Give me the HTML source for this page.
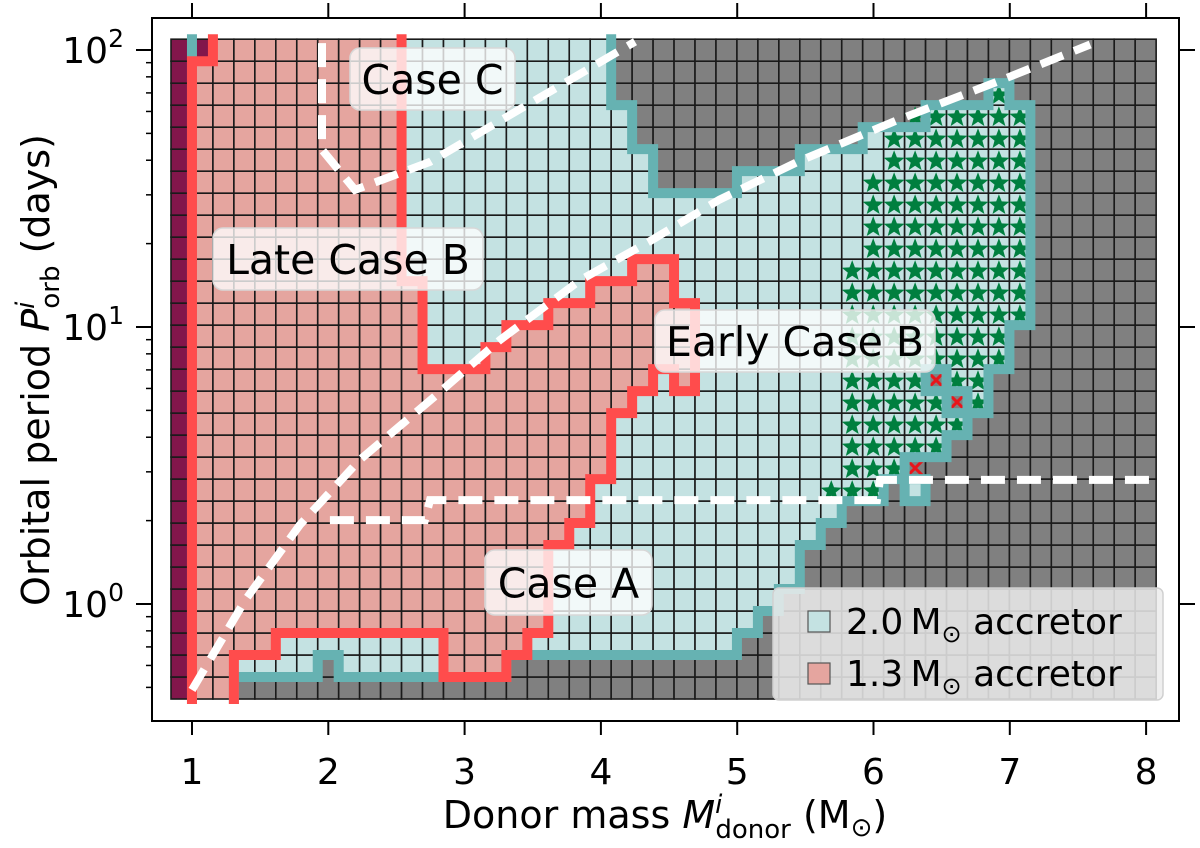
<!DOCTYPE html>
<html><head><meta charset="utf-8"><style>
html,body{margin:0;padding:0;background:#fff}
svg text{font-family:"DejaVu Sans","Liberation Sans",sans-serif}
</style></head><body>
<svg id="chart" width="1200" height="843" viewBox="0 0 1200 843" xmlns="http://www.w3.org/2000/svg">
<rect x="0" y="0" width="1200" height="843" fill="#fff"/>
<g id="cells"></g>
<g id="stars"></g>
<g id="outlines"></g>
<g id="dashes"></g>
<g id="labels"></g>
<g id="legend"></g>
<g id="axes"></g>
</svg>
<script>
// ---- data ----
const nCols = 47, nRows = 30;
const massStart = 0.846, massStep = 0.15378;
const logPStart = -0.343, logPStep = 0.0794;
// 2.0 Msun accretor stable region per column: [lowRow, highRowExclusive]
const tealLo = [null,0,0,1,1,1,1,2,1,1,1,1,1,1,1,1,2,2,2,2,2,2,2,2,2,2,2,3,4,5,7,8,9,9,10,9,11,12,13,15,17];
const tealHi = [null,30,30,30,30,30,30,30,30,30,30,30,30,30,30,30,30,30,30,30,30,27,25,23,23,23,23,24,24,24,25,25,25,26,26,26,27,27,27,28,27];
// 1.3 Msun accretor stable region
const pinkLo = [null,0,0,2,2,3,3,3,3,3,3,3,3,1,1,1,2,3,7,8,10,13,14,15,14];
const pinkHi = [null,29,30,30,30,30,30,30,30,30,30,19,15,15,15,16,17,17,18,18,19,19,20,20,18];
// failed cells (marked with x): [col,row]
const failCells = [[35,10],[36,14],[37,13]];
// star rows per column
const starCols = [31,32,33,34,35,36,37,38,39,40];
const starLo   = [9,9,9,10,11,11,12,13,15,17];
const starHi   = [9,19,23,25,26,26,26,26,27,26];
// dashed lines [mass, log10 P]
const lineCaseC = [[1.954,2.025],[1.954,1.64],[2.196,1.495],[2.746,1.596],[4.25,2.03]];
const lineDiag = [[1.0,-0.31],[1.39,0.014],[1.79,0.285],[2.23,0.52],[2.75,0.736],[3.26,0.953],[3.85,1.17],[4.36,1.31],[4.87,1.46],[5.46,1.60],[6.19,1.75],[6.93,1.89],[7.59,2.02]];
const lineCaseA = [[2.012,0.303],[2.709,0.303],[2.746,0.375],[6.026,0.375],[6.048,0.448],[8.10,0.448]];
const xTicks = [1,2,3,4,5,6,7,8];
const yTicks = [0,1,2];

// ---- axes ----
const X = m => 192 + (m-1)*136.3;
const Y = lp => 604 - lp*277;
const colX = i => X(massStart + i*massStep);
const rowY = j => Y(logPStart + j*logPStep);
const NS = "http://www.w3.org/2000/svg";
function mk(tag, attrs, parent){const e=document.createElementNS(NS,tag);for(const k in attrs)e.setAttribute(k,attrs[k]);if(parent)parent.appendChild(e);return e;}

function inTeal(i,j){ if(i<1||i>=tealLo.length||tealLo[i]===null) return false;
  if(failCells.some(c=>c[0]===i&&c[1]===j)) return false;
  return j>=tealLo[i] && j<tealHi[i]; }
function inPink(i,j){ if(i<1||i>=pinkLo.length||pinkLo[i]===null) return false; return j>=pinkLo[i] && j<pinkHi[i]; }
function inMag(i,j){ return i===0 || (i===1 && j===29); }

const gc = document.getElementById('cells');
for(let i=0;i<nCols;i++){ for(let j=0;j<nRows;j++){
  let f='#808080';
  if(inMag(i,j)) f='#82164b'; else if(inPink(i,j)) f='#e5a59f'; else if(inTeal(i,j)) f='#c4e2e2';
  const x0=colX(i), x1=colX(i+1), y0=rowY(j+1), y1=rowY(j);
  const r = mk('rect',{x:x0,y:y0,width:x1-x0,height:y1-y0,fill:f,stroke:'#1a1a1a','stroke-width':1.6},gc);
  
  
}}
// stars
const gs=document.getElementById('stars');
function starPts(cx,cy,R){let p=[];for(let k=0;k<10;k++){const a=-Math.PI/2+k*Math.PI/5;const r=k%2?R*0.42:R;p.push((cx+r*Math.cos(a)).toFixed(1)+','+(cy+r*Math.sin(a)).toFixed(1));}return p.join(' ');}
starCols.forEach((c,k)=>{ for(let j=starLo[k];j<=starHi[k];j++){
  if(failCells.some(f=>f[0]===c&&f[1]===j)) continue;
  const cx=(colX(c)+colX(c+1))/2, cy=(rowY(j)+rowY(j+1))/2;
  const s=mk('polygon',{points:starPts(cx,cy+1,11),fill:'#007f3f'},gs);
  
  
}});
failCells.forEach(f=>{
  const cx=(colX(f[0])+colX(f[0]+1))/2, cy=(rowY(f[1])+rowY(f[1]+1))/2;
  const x=mk('path',{d:`M${cx-7},${cy-7}L${cx+7},${cy+7}M${cx+7},${cy-7}L${cx-7},${cy+7}`,stroke:'#e8161b','stroke-width':3},gs);
  
  
});
// outlines
const go=document.getElementById('outlines');
function outline(fn,color,name){
  let d='';
  for(let i=0;i<nCols;i++)for(let j=0;j<nRows;j++){ if(!fn(i,j))continue;
    const x0=colX(i),x1=colX(i+1),y0=rowY(j+1),y1=rowY(j);
    if(j<nRows-1 && !fn(i,j+1)) d+=`M${x0},${y0}H${x1}`;
    if(j>0 && !fn(i,j-1)) d+=`M${x0},${y1}H${x1}`;
    if(i>0 && !fn(i-1,j)) d+=`M${x0},${y0}V${y1}`;
    if(i<nCols-1 && !fn(i+1,j)) d+=`M${x1},${y0}V${y1}`;
  }
  const p=mk('path',{d:d,stroke:color,'stroke-width':10,fill:'none','stroke-linecap':'square'},go);
  
  
}
outline(inTeal,'#66b2b2','boundary-2p0-accretor');
outline(inPink,'#ff4c4c','boundary-1p3-accretor');
// dashed lines
const gd=document.getElementById('dashes');
function dline(pts,name){
  const p=mk('polyline',{points:pts.map(q=>X(q[0]).toFixed(1)+','+Y(q[1]).toFixed(1)).join(' '),fill:'none',stroke:'#fff','stroke-width':8,'stroke-dasharray':'24 12'},gd);
  
  
}
dline(lineCaseC,'case-c-boundary');
dline(lineDiag,'case-b-boundary');
dline(lineCaseA,'case-a-boundary');
</script>
<script>
// labels, legend, axes (static)
(function(){
const NS="http://www.w3.org/2000/svg";
function mk(tag,attrs,parent){const e=document.createElementNS(NS,tag);for(const k in attrs)e.setAttribute(k,attrs[k]);parent.appendChild(e);return e;}
const gl=document.getElementById('labels');
const labs=[['Case C',350,48,165,62,'label-case-c'],['Late Case B',213,228,270,62,'label-late-case-b'],['Early Case B',655,310,280,62,'label-early-case-b'],['Case A',485,550,167,65,'label-case-a']];
labs.forEach(l=>{
  const g=mk('g',{},gl);
  
  
  mk('rect',{x:l[1],y:l[2],width:l[3],height:l[4],rx:10,fill:'#fff','fill-opacity':0.78,stroke:'#d8d8d8','stroke-width':1.5},g);
  const t=mk('text',{x:l[1]+l[3]/2,y:l[2]+l[4]/2+15,'text-anchor':'middle','font-size':41,fill:'#000'},g);
  t.textContent=l[0];
});
const lg=document.getElementById('legend');
mk('rect',{x:773,y:588,width:390,height:112,rx:6,fill:'#ececec','fill-opacity':0.85,stroke:'#d0d0d0','stroke-width':1.5},lg);
[['2.0','#c4e2e2',611,'legend-entry-2p0'],['1.3','#e5a59f',663,'legend-entry-1p3']].forEach(e=>{
  const g=mk('g',{},lg);
  
  
  mk('rect',{x:808,y:e[2],width:22,height:21,fill:e[1],stroke:'#555','stroke-width':1.2},g);
  const t=mk('text',{x:846,y:e[2]+23,'font-size':36,fill:'#000'},g);
  t.innerHTML=e[0]+'\u2009M<tspan font-size="24" dy="8">\u2299</tspan><tspan dy="-8"> accretor</tspan>';
});
const ga=document.getElementById('axes');
const fr=mk('rect',{x:152,y:18,width:1027,height:703,fill:'none',stroke:'#000','stroke-width':2},ga);


const X=m=>192+(m-1)*136.3, Y=lp=>604-lp*277;
[1,2,3,4,5,6,7,8].forEach(m=>{
  const x=X(m);
  mk('line',{x1:x,y1:721,x2:x,y2:735,stroke:'#000','stroke-width':2},ga);
  mk('line',{x1:x,y1:18,x2:x,y2:3,stroke:'#000','stroke-width':2},ga);
  const t=mk('text',{x:x,y:784,'text-anchor':'middle','font-size':36},ga);
  
  
  t.textContent=m;
});
[0,1,2].forEach(d=>{
  const y=Y(d);
  mk('line',{x1:136,y1:y,x2:152,y2:y,stroke:'#000','stroke-width':2},ga);
  mk('line',{x1:1179,y1:y,x2:1195,y2:y,stroke:'#000','stroke-width':2},ga);
  const t=mk('text',{x:124,y:y+13,'text-anchor':'end','font-size':36},ga);
  
  
  t.innerHTML='10<tspan font-size="25" dy="-16">'+d+'</tspan>';
});
for(let d=-1;d<=2;d++)for(let k=2;k<=9;k++){
  const lp=d+Math.log10(k); if(lp<-0.343||lp>2.06)continue;
  const y=Y(lp);
  mk('line',{x1:146,y1:y,x2:152,y2:y,stroke:'#000','stroke-width':1.5},ga);
}
const xt=mk('text',{x:665,y:828,'text-anchor':'middle','font-size':38},ga);


xt.innerHTML='Donor mass <tspan font-style="italic">M</tspan><tspan font-size="26" dy="-15" font-style="italic">i</tspan><tspan font-size="26" dy="25" dx="-7">donor</tspan><tspan dy="-10"> (M</tspan><tspan font-size="26" dy="8">\u2299</tspan><tspan dy="-8">)</tspan>';
const yt=mk('text',{x:0,y:0,'text-anchor':'middle','font-size':38,transform:'translate(49,370) rotate(-90)'},ga);


yt.innerHTML='Orbital period <tspan font-style="italic">P</tspan><tspan font-size="26" dy="-15" font-style="italic">i</tspan><tspan font-size="26" dy="25" dx="-7">orb</tspan><tspan dy="-10"> (days)</tspan>';
})();
</script>
</body></html>
